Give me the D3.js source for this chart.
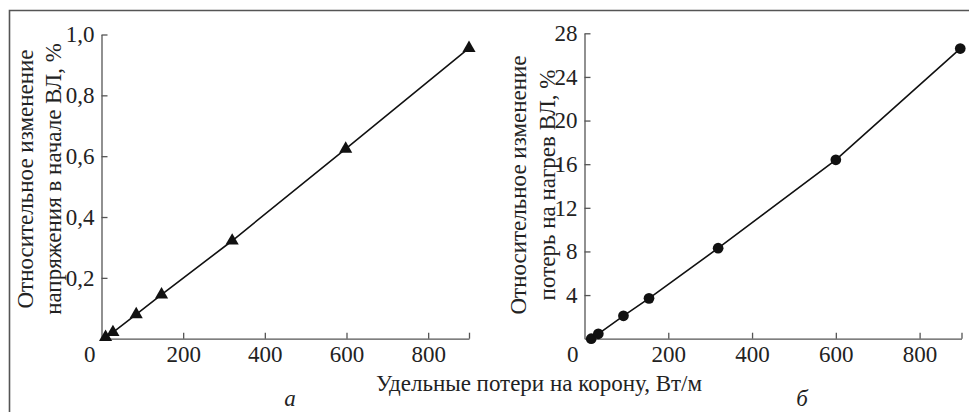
<!DOCTYPE html>
<html>
<head>
<meta charset="utf-8">
<script src="https://cdn.jsdelivr.net/npm/d3@7"></script>
<style>
  body { margin: 0; background: #fff; }
</style>
</head>
<body>
<div id="chart"></div>
<script>
// data
var lossA = [10, 28, 85, 147, 320, 598, 900];
var voltageChange = [0.005, 0.021, 0.08, 0.145, 0.322, 0.624, 0.955];
var lossB = [16, 33, 93, 154, 319, 600, 897];
var heatLossChange = [0, 0.45, 2.1, 3.7, 8.3, 16.4, 26.6];

var xTicks = [200, 400, 600, 800, 900];
var yTicksA = [0.2, 0.4, 0.6, 0.8, 1.0];
var yTicksB = [4, 8, 12, 16, 20, 24, 28];

var w = 969, h = 412,
    fontSize = 23,
    serif = "'Liberation Serif', 'Times New Roman', serif",
    axisColor = "#555";

var svg = d3.select("#chart")
    .append("svg")
    .attr("width", w)
    .attr("height", h)
    .style("font-family", serif);

// frame
svg.append("path")
    .attr("d", "M9.5," + h + " V10.5 H" + w)
    .attr("fill", "none")
    .attr("stroke", "#555")
    .attr("stroke-width", 1.6);

function label(sel) {
    return sel.style("font-family", serif)
        .style("font-size", fontSize + "px")
        .attr("fill", "#222");
}

function drawPanel(opts) {
    var x = d3.scaleLinear().domain([0, 900]).range(opts.xRange);
    var y = d3.scaleLinear().domain(opts.yDomain).range(opts.yRange);
    var g = svg.append("g");

    var xAxis = d3.axisBottom(x)
        .tickValues(xTicks)
        .tickSizeInner(-6)
        .tickSizeOuter(0)
        .tickPadding(7)
        .tickFormat(function (d) { return d == 900 ? "" : d; });

    var yAxis = d3.axisLeft(y)
        .tickValues(opts.yTicks)
        .tickSizeInner(-6)
        .tickSizeOuter(0)
        .tickPadding(7)
        .tickFormat(opts.fmt);

    g.append("g")
        .attr("transform", "translate(0," + opts.yRange[0] + ")")
        .call(xAxis);
    g.append("g")
        .attr("transform", "translate(" + opts.xRange[0] + ",0)")
        .call(yAxis);

    g.selectAll(".domain, .tick line")
        .attr("stroke", axisColor)
        .attr("stroke-width", 1.3);
    label(g.selectAll(".tick text"));

    // the lone zero in the corner
    label(g.append("text"))
        .attr("x", opts.xRange[0] - 6)
        .attr("y", opts.yRange[0] + 7)
        .attr("dy", "0.71em")
        .attr("text-anchor", "end")
        .text("0");

    var pts = opts.xs.map(function (d, i) { return [d, opts.ys[i]]; });

    g.append("path")
        .datum(pts)
        .attr("fill", "none")
        .attr("stroke", "#111")
        .attr("stroke-width", 1.6)
        .attr("d", d3.line()
            .x(function (d) { return x(d[0]); })
            .y(function (d) { return y(d[1]); }));

    g.selectAll(".mark")
        .data(pts)
        .enter()
        .append("path")
        .attr("transform", function (d) {
            return "translate(" + x(d[0]) + "," + y(d[1]) + ")";
        })
        .attr("d", d3.symbol().type(opts.symbol).size(opts.symbolSize))
        .attr("fill", "#111");

    // rotated y title, two lines
    opts.yTitle.forEach(function (line, i) {
        label(g.append("text"))
            .attr("transform", "translate(" + opts.titleX[i] + "," + opts.titleY + ") rotate(-90)")
            .attr("text-anchor", "middle")
            .attr("dominant-baseline", "central")
            .text(line);
    });

    label(g.append("text"))
        .attr("x", opts.letterX)
        .attr("y", 398)
        .attr("dominant-baseline", "central")
        .attr("text-anchor", "middle")
        .style("font-style", "italic")
        .text(opts.letter);
}

drawPanel({
    xRange: [101.5, 469],
    yRange: [338.7, 34.5],
    yDomain: [0, 1],
    yTicks: yTicksA,
    fmt: function (d) { return d3.format(".1f")(d).replace(".", ","); },
    xs: lossA,
    ys: voltageChange,
    symbol: d3.symbolTriangle,
    symbolSize: 75,
    yTitle: ["Относительное изменение", "напряжения в начале ВЛ, %"],
    titleX: [25, 53],
    titleY: 179,
    letter: "а",
    letterX: 290
});

drawPanel({
    xRange: [584.5, 961.5],
    yRange: [338.7, 33.3],
    yDomain: [0, 28],
    yTicks: yTicksB,
    fmt: function (d) { return d; },
    xs: lossB,
    ys: heatLossChange,
    symbol: d3.symbolCircle,
    symbolSize: 90,
    yTitle: ["Относительное изменение", "потерь на нагрев ВЛ, %"],
    titleX: [518, 547],
    titleY: 185,
    letter: "б",
    letterX: 802
});

// shared x title
label(svg.append("text"))
    .attr("x", 539)
    .attr("y", 383)
    .attr("dominant-baseline", "central")
    .attr("text-anchor", "middle")
    .text("Удельные потери на корону, Вт/м");
</script>
</body>
</html>
